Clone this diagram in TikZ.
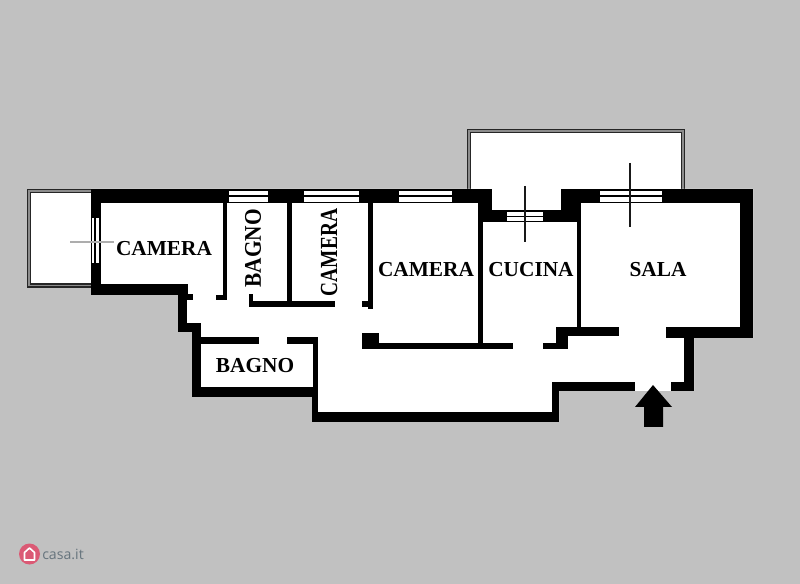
\documentclass[tikz,border=0pt]{standalone}
\usepackage{fontspec}
\usepackage{graphicx}
\setmainfont{Liberation Serif}
\newfontfamily\logofont{Open Sans}
\definecolor{bggrey}{HTML}{C1C1C1}
\definecolor{logored}{HTML}{DB5A75}
\definecolor{logotext}{HTML}{66747D}
\tikzset{
  wall/.style={fill=black,draw=none},
  pane/.style={fill=white,draw=none},
  rail/.style={draw=black!85,line width=1pt,fill=none},
  railgap/.style={fill=black!45,draw=none},
  label/.style={inner sep=0pt,font=\fontsize{16}{16}\selectfont\bfseries,text=black},
  sightline/.style={draw=black!90,line width=1.6pt},
}
\begin{document}
\begin{tikzpicture}[x=0.75pt,y=-0.75pt]
\useasboundingbox (0,0) rectangle (800,584);
\fill[bggrey] (0,0) rectangle (800,584);
% balconies
\fill[railgap] (27,189) rectangle (95,287);
\fill[white] (31,193) rectangle (95,284);
\draw[rail] (27.5,189.5) rectangle (95,287);
\draw[rail] (30.5,192.5) rectangle (95,284);
\fill[railgap] (467,129) rectangle (685,195);
\fill[white] (471,133) rectangle (681,212);
\draw[rail] (467.5,129.5) -- (684.5,129.5) -- (684.5,195) (467.5,129.5) -- (467.5,195);
\draw[rail] (470.5,132.5) -- (681.5,132.5) -- (681.5,195) (470.5,132.5) -- (470.5,195);
% floor
\fill[white] (91,189) -- (492,189) -- (492,210) -- (561,210) -- (561,189) -- (753,189)
  -- (753,338) -- (694,338) -- (694,391) -- (559,391) -- (559,422) -- (312,422)
  -- (312,397) -- (192,397) -- (192,332) -- (178,332) -- (178,295) -- (91,295) -- cycle;
% walls
\foreach \xa/\ya/\xb/\yb in {
  91/189/492/203, 91/189/101/295, 91/284/188/295, 178/284/187/332, 178/294/193/300,
  178/323/199/332, 192/323/201/397, 192/387/318/397, 192/337/259/344, 287/337/318/344,
  313/337/318/422, 312/387/318/422, 312/412/559/422, 552/382/559/422, 552/382/635/391,
  671/382/694/391, 684/328/694/391, 666/327/753/338, 740/189/753/338, 561/189/753/203,
  561/189/581/222, 483/210/577/222, 478/189/492/222, 478/203/483/349, 362/343/513/349,
  362/333/379/349, 368/203/373/309, 362/301/368/307, 287/203/292/307, 249/301/335/307,
  249/294/253/301, 223/203/227/300, 216/295/227/300, 577/222/581/336, 556/327/619/336,
  556/327/568/349, 543/343/568/349}
  {\fill[wall] (\xa,\ya) rectangle (\xb,\yb);}
% windows
\foreach \xa/\xb in {229/268, 304/359, 399/452, 600/662}{
  \fill[pane] (\xa,191) rectangle (\xb,195.5);
  \fill[pane] (\xa,197) rectangle (\xb,202);
}
\fill[pane] (507,212) rectangle (543,216);
\fill[pane] (507,217.5) rectangle (543,221);
\fill[pane] (92,218) rectangle (94.3,263);
\fill[pane] (96,218) rectangle (99,263);
% window sight lines
\draw[sightline] (525,186) -- (525,242);
\draw[sightline] (630,163) -- (630,227);
\draw[draw=black!32,line width=1.3pt] (70,242) -- (114,242);
% labels
\node[label] (cam1) at (164,248.5) {CAMERA};
\node[label] (cam3) at (426,269.5) {CAMERA};
\node[label] (cuc) at (531,269.5) {CUCINA};
\node[label] (sala) at (658,270) {SALA};
\node[label] (bag2) at (255,365.5) {BAGNO};
\node[label,rotate=90] (bag1) at (253,248.5) {\scalebox{1}[1.12]{BAGNO}};
\node[label,rotate=90] (cam2) at (329,252.5) {\scalebox{0.91}[1.15]{CAMERA}};
% entrance arrow
\fill[black] (653,385) -- (672,407) -- (663,407) -- (663,427) -- (644,427) -- (644,407) -- (635,407) -- cycle;
% logo
\fill[logored] (29.5,554) circle (10.5);
\draw[white,line width=1.2pt,line join=round] (24.5,560) -- (24.5,552.5) -- (29.5,548) -- (34.5,552.5) -- (34.5,560) -- cycle;
\node[inner sep=0pt,anchor=base west,text=logotext,font=\logofont\fontsize{10.6}{10.6}\selectfont] (logo) at (42,559) {casa.it};
\end{tikzpicture}
\end{document}
